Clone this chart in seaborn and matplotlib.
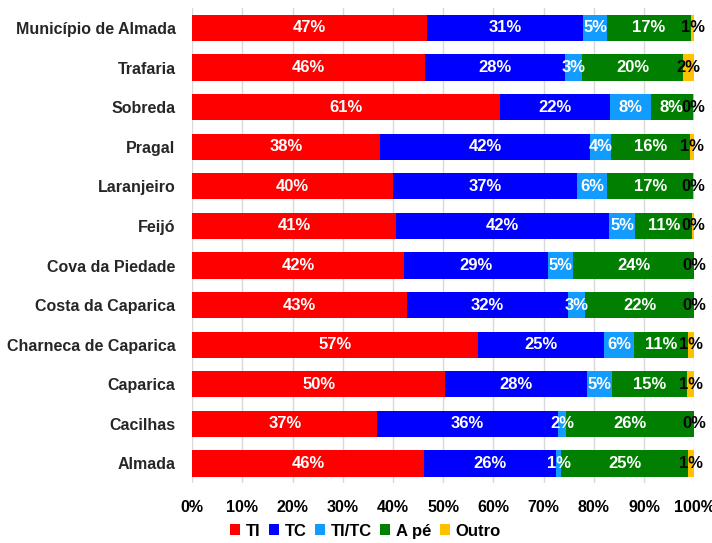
import matplotlib
matplotlib.use("Agg")
import numpy as np
import pandas as pd
import matplotlib.pyplot as plt
from matplotlib.patches import Patch
import seaborn as sns

# Data (percent of trips per mode)
locais = ["Município de Almada", "Trafaria", "Sobreda", "Pragal", "Laranjeiro", "Feijó",
          "Cova da Piedade", "Costa da Caparica", "Charneca de Caparica", "Caparica",
          "Cacilhas", "Almada"]
modos = ["TI", "TC", "TI/TC", "A pé", "Outro"]
ti = [46.8, 46.4, 61.4, 37.5, 40.0, 40.6, 42.2, 42.8, 57.0, 50.4, 36.9, 46.2]
tc = [31.1, 27.8, 21.8, 41.8, 36.7, 42.4, 28.7, 32.1, 25.1, 28.2, 35.9, 26.3]
ti_tc = [4.8, 3.4, 8.2, 4.2, 6.0, 5.3, 5.0, 3.4, 5.9, 5.1, 1.7, 1.0]
a_pe = [16.6, 20.2, 8.3, 15.7, 17.1, 11.3, 24.1, 21.7, 10.8, 14.9, 25.6, 25.3]
outro = [0.8, 2.2, 0.3, 0.8, 0.2, 0.4, 0.0, 0.0, 1.2, 1.4, 0.0, 1.2]
cores = ["#FF0000", "#0000FF", "#139CFF", "#007F00", "#FFC000"]

df = pd.DataFrame({"local": locais, "TI": ti, "TC": tc, "TI/TC": ti_tc,
                   "A pé": a_pe, "Outro": outro})
cum = df[modos].cumsum(axis=1)

plt.rcParams["font.family"] = ["Liberation Sans", "DejaVu Sans"]
fig = plt.figure(figsize=(7.12, 5.43), dpi=100)
ax = fig.add_axes([0.27, 0.11, 0.705, 0.875])

# stacked bars: draw cumulative totals from largest to smallest
for modo, cor in reversed(list(zip(modos, cores))):
    sns.barplot(x=cum[modo], y=df["local"], color=cor, orient="h", order=locais,
                width=0.66, ax=ax, saturation=1, edgecolor="none", zorder=2)

# segment labels
for i, row in df.iterrows():
    start = 0
    for modo in modos:
        v = row[modo]
        cor_txt = "black" if modo == "Outro" else "white"
        ax.text(start + v / 2, i, f"{round(v):.0f}%", ha="center", va="center",
                color=cor_txt, fontsize=12, fontweight="bold", zorder=3)
        start += v

ax.set_xlim(0, 100)
ax.set_ylim(len(locais) - 0.5, -0.5)
ax.set_xticks(np.arange(0, 101, 10))
ax.set_xticklabels([f"{t}%" for t in range(0, 101, 10)], fontsize=11.5, fontweight="bold")
ax.set_yticks(range(len(locais)))
ax.set_yticklabels(locais, fontsize=11.5, fontweight="bold", color="#262626")
ax.set_xlabel("")
ax.set_ylabel("")
ax.grid(axis="x", color="#D9D9D9", linewidth=1, zorder=0)
ax.set_axisbelow(True)
for s in ax.spines.values():
    s.set_visible(False)
ax.tick_params(axis="both", length=0)
ax.tick_params(axis="y", pad=12)
ax.tick_params(axis="x", pad=12)

handles = [Patch(facecolor=c, edgecolor="none") for c in cores]
fig.legend(handles, modos, loc="center", bbox_to_anchor=(0.513, 0.022), ncol=5,
           frameon=False, handlelength=0.6, handleheight=0.6, handletextpad=0.35,
           columnspacing=0.5, borderpad=0.1, prop={"weight": "bold", "size": 12})

fig.savefig("out.png", dpi=100)
